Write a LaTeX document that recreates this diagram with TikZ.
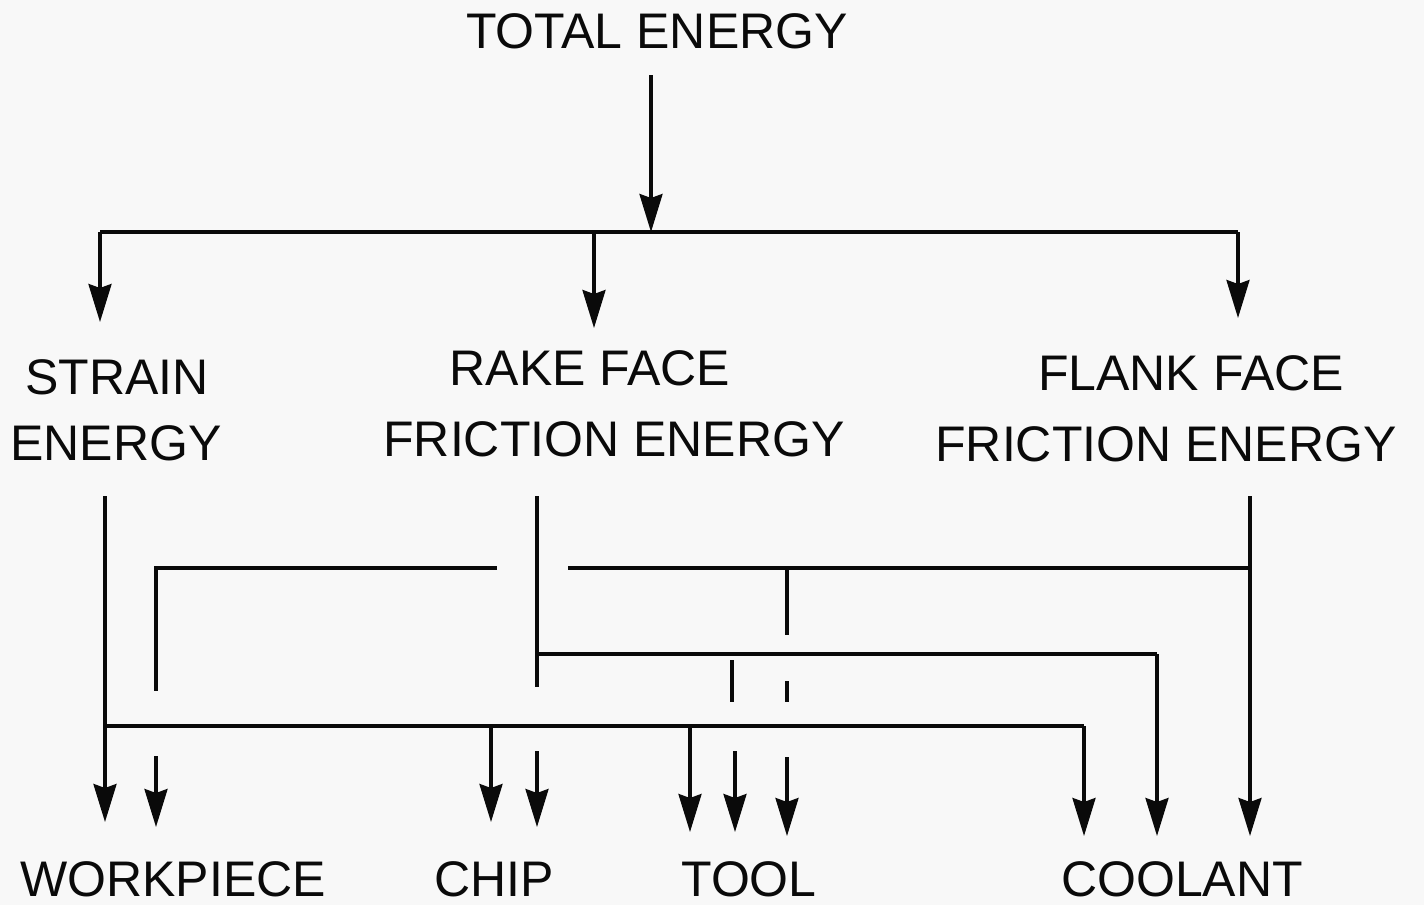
\documentclass[tikz,border=0pt]{standalone}
\usepackage{fontspec}
\setmainfont{Liberation Sans}
\usetikzlibrary{arrows.meta}
\definecolor{Ink}{HTML}{0A0A0A}
\definecolor{Paper}{HTML}{F8F8F8}
\tikzset{
  lbl/.style={font=\fontsize{50}{60}\selectfont,text=Ink,inner sep=0pt},
  wire/.style={draw=Ink,line width=3.2pt},
  feed/.style={wire,-{Stealth[length=38pt,width=23pt,inset=4pt]}},
}

\begin{document}
\begin{tikzpicture}[x=1pt,y=-1pt]
\fill[Paper] (0,0) rectangle (1424,905);
\useasboundingbox (0,0) rectangle (1424,905);
% labels
\node[lbl] (total) at (657,31.5) {TOTAL ENERGY};
\node[lbl] (strainA) at (117,377) {STRAIN};
\node[lbl] (strainB) at (116,443) {ENERGY};
\node[lbl] (rakeA) at (590,368) {RAKE FACE};
\node[lbl] (rakeB) at (614,439) {FRICTION ENERGY};
\node[lbl] (flankA) at (1191,373) {FLANK FACE};
\node[lbl] (flankB) at (1166,444) {FRICTION ENERGY};
\node[lbl] (work) at (173,879) {WORKPIECE};
\node[lbl] (chip) at (494,879) {CHIP};
\node[lbl] (tool) at (749,879) {TOOL};
\node[lbl] (cool) at (1182,879) {COOLANT};
% top split
\coordinate (split) at (651,232);
\coordinate (splitL) at (100,232);
\coordinate (splitM) at (594,232);
\coordinate (splitR) at (1238,232);
\draw[feed] (651,75) -- (split);
\draw[wire] (splitL) -- (splitR);
\draw[feed] (splitL) -- (100,322);
\draw[feed] (splitM) -- (594,328);
\draw[feed] (splitR) -- (1238,318);
% strain energy
\coordinate (sTop) at (105,496);
\coordinate (sBus) at (105,726);
\coordinate (sCool) at (1084,726);
\draw[feed] (sTop) -- (105,822);
\draw[wire] (sBus) -- (sCool);
\draw[feed] (sCool) -- (1084,836);
\draw[feed] (491,726) -- (491,822);
\draw[feed] (690,726) -- (690,832);
% rake face friction energy
\coordinate (rTop) at (537,496);
\coordinate (rBus) at (537,654);
\coordinate (rCool) at (1157,654);
\draw[wire] (rTop) -- (537,687);
\draw[feed] (537,751) -- (537,827);
\draw[wire] (rBus) -- (rCool);
\draw[feed] (rCool) -- (1157,836);
\draw[wire] (732,660) -- (732,702);
\draw[feed] (735,751) -- (735,832);
% flank face friction energy
\coordinate (fTop) at (1250,496);
\coordinate (fBus) at (1250,568);
\coordinate (fWork) at (156,568);
\draw[feed] (fTop) -- (1250,836);
\draw[wire] (fBus) -- (568,568);
\draw[wire] (497,568) -- (fWork) -- (156,691);
\draw[feed] (156,756) -- (156,827);
\draw[wire] (787,568) -- (787,635);
\draw[wire] (787,681) -- (787,702);
\draw[feed] (787,757) -- (787,836);
\end{tikzpicture}
\end{document}
